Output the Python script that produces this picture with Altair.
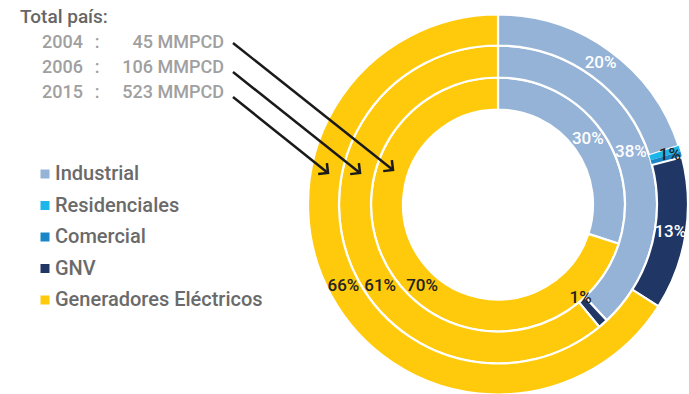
import math
import altair as alt
import pandas as pd

# ---------------- data ----------------
categories = ["Industrial", "Residenciales", "Comercial", "GNV", "Generadores Eléctricos"]
colors = ["#95B3D7", "#1DB6EA", "#1A86C7", "#203766", "#FFC90C"]

rings = ["2004", "2006", "2015"]
totals = ["45 MMPCD", "106 MMPCD", "523 MMPCD"]

share_2004 = [30, 0, 0, 0, 70]
share_2006 = [38, 0, 0, 1, 61]
share_2015 = [20, 0.5, 0.5, 13, 66]

labels_2004 = ["30%", "", "", "", "70%"]
labels_2006 = ["38%", "", "", "1%", "61%"]
labels_2015 = ["20%", "1%", "", "13%", "66%"]

# ---------------- layout ----------------
W, H = 689, 394
CX, CY = 498, 204.5
ring_radii = {"2004": (95, 127), "2006": (127, 159), "2015": (159, 190)}
small_label_radius = {"2006": 125, "2015": 179}  # radius for labels of tiny slices
YELLOW_ROW = 81  # vertical offset (px) of the yellow labels row below centre
FONT = "Roboto"

shares = {"2004": share_2004, "2006": share_2006, "2015": share_2015}
labels = {"2004": labels_2004, "2006": labels_2006, "2015": labels_2015}

rows = []
for ring in rings:
    ri, ro = ring_radii[ring]
    rmid = (ri + ro) / 2
    cum = 0.0
    for cat, v, lab in zip(categories, shares[ring], labels[ring]):
        start, end = cum, cum + v
        cum = end
        lrad = rmid
        if cat == "Residenciales" and lab:
            nxt = shares[ring][categories.index("Comercial")]
            mid = (start + end + nxt) / 2
        else:
            mid = (start + end) / 2
        if v < 5:
            lrad = small_label_radius.get(ring, rmid)
        if cat == "Generadores Eléctricos":
            ang = 360 - math.degrees(math.acos(-YELLOW_ROW / rmid))
            mid = ang / 360 * 100
        dark = cat == "Generadores Eléctricos" or v < 5
        rows.append(dict(ring=ring, category=cat, value=v, start=start, end=end,
                         label=lab, lpos=mid, lrad=lrad,
                         sw=0.0 if v < 1 else 2.2,
                         lcolor="#222222" if dark else "#FFFFFF"))
df = pd.DataFrame(rows)

theta_scale = alt.Scale(domain=[0, 100])
color_scale = alt.Scale(domain=categories, range=colors)

legend = alt.Legend(
    title=None, orient="none", legendX=35, legendY=164,
    symbolType="square", symbolSize=81, symbolStrokeWidth=0,
    labelFontSize=20, labelFont=FONT, labelColor="#6a6a6a", labelFontWeight=500,
    labelLimit=400, rowPadding=11.5, labelOffset=0, padding=0,
)

layers = []
for ring in rings:
    ri, ro = ring_radii[ring]
    sub = df[(df.ring == ring) & (df.value > 0)]
    layers.append(
        alt.Chart(sub).mark_arc(radius=ro, radius2=ri, stroke="white").encode(
            theta=alt.Theta("start:Q", stack=None, scale=theta_scale),
            theta2="end:Q",
            color=alt.Color("category:N", scale=color_scale, legend=legend),
            strokeWidth=alt.StrokeWidth("sw:Q", scale=None),
            x=alt.value(CX),
            y=alt.value(CY),
        )
    )

lab_df = df[df.label != ""]
layers.append(
    alt.Chart(lab_df).mark_text(font=FONT, fontSize=17, fontWeight=500, align="center", baseline="middle").encode(
        theta=alt.Theta("lpos:Q", stack=None, scale=theta_scale),
        radius=alt.Radius("lrad:Q", scale=None),
        text="label:N",
        color=alt.Color("lcolor:N", scale=None),
        x=alt.value(CX),
        y=alt.value(CY),
    )
)

# header
layers.append(
    alt.Chart(pd.DataFrame({"t": ["Total país:"]})).mark_text(
        font=FONT, fontSize=19, fontWeight=500, color="#666666", align="left", baseline="middle"
    ).encode(text="t:N", x=alt.value(20), y=alt.value(17))
)
hdr = pd.DataFrame({"year": rings, "total": totals, "colon": [":"] * 3})
yscale = alt.Y("year:O", scale=alt.Scale(type="point", domain=rings, range=[43, 93], padding=0), axis=None)
base_hdr = alt.Chart(hdr)
layers.append(base_hdr.mark_text(font=FONT, fontSize=18, fontWeight=500, color="#a0a0a0", align="left", baseline="middle")
              .encode(text="year:N", x=alt.value(42), y=yscale))
layers.append(base_hdr.mark_text(font=FONT, fontSize=18, fontWeight=500, color="#a0a0a0", align="center", baseline="middle")
              .encode(text="colon:N", x=alt.value(97), y=yscale))
layers.append(base_hdr.mark_text(font=FONT, fontSize=18, fontWeight=500, color="#a0a0a0", align="right", baseline="middle")
              .encode(text="total:N", x=alt.value(224), y=yscale))

# arrows (annotation)
arrow_from = [(233, 43), (233, 72), (233, 97)]
arrow_to = [(393, 170), (360, 173), (328, 173)]
chevron = "M-1,-1L0,0L-1,1"
one = pd.DataFrame({"a": [0]})
for (x1, y1), (x2, y2) in zip(arrow_from, arrow_to):
    ang = math.degrees(math.atan2(y2 - y1, x2 - x1))
    layers.append(alt.Chart(one).mark_rule(color="#1a1a1a", strokeWidth=2.5).encode(
        x=alt.value(x1), y=alt.value(y1), x2=alt.value(x2), y2=alt.value(y2)))
    layers.append(alt.Chart(one).mark_point(shape=chevron, size=196, angle=ang, filled=False,
                                            stroke="#1a1a1a", strokeWidth=2.5, opacity=1).encode(
        x=alt.value(x2), y=alt.value(y2)))

chart = alt.layer(*layers).properties(
    width=W, height=H, padding=0, autosize=alt.AutoSizeParams(type="none"), background="white"
).configure_view(stroke=None)

chart.save("out.html", embed_options={"renderer": "svg", "actions": False})
